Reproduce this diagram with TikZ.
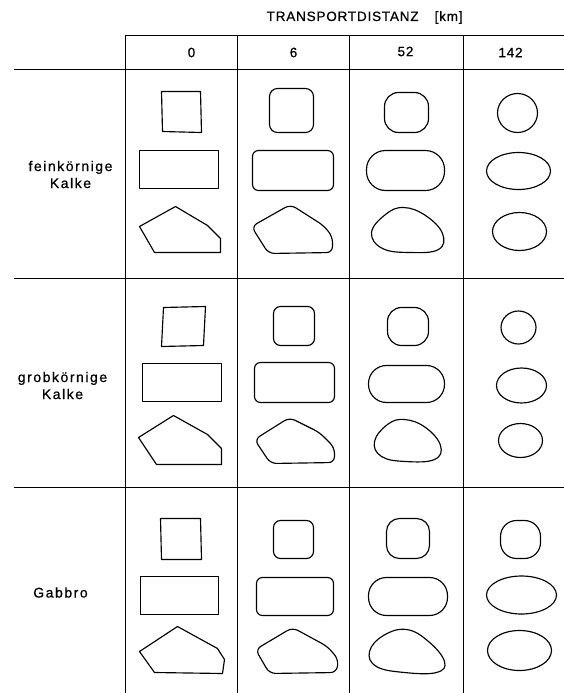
\documentclass[tikz,border=0pt]{standalone}
\usepackage{fontspec}
\setmainfont{Liberation Sans}
\newfontfamily\lblfont[LetterSpace=11,FakeBold=0.6]{Liberation Sans}
\newfontfamily\hdfont[LetterSpace=6,FakeBold=0.6]{Liberation Sans}
\begin{document}
\begin{tikzpicture}[x=1pt,y=-1pt,
  grid/.style={line width=1.2pt},
  grain/.style={line width=1.15pt, line join=round},
  lbl/.style={font=\fontsize{14}{17}\selectfont\lblfont, align=center, inner sep=0pt},
  hd/.style={font=\fontsize{13.5}{16}\selectfont\hdfont, inner sep=0pt}]
\useasboundingbox[fill=white] (0,0) rectangle (564,693);
\begin{scope}[shift={(0.5,-0.5)}]
% table
\draw[grid] (125,36) -- (564,36);
\draw[grid] (13,70) -- (564,70);
\draw[grid] (13,279) -- (564,279);
\draw[grid] (13,488) -- (564,488);
\foreach \x in {125,237,349,463} \draw[grid] (\x,36) -- (\x,693);
% header texts
\node[hd, anchor=west] (title) at (266,18) {TRANSPORTDISTANZ\hspace{16pt}[km]};
\node[hd] (h0) at (191,53) {0};
\node[hd] (h6) at (293,53) {6};
\node[hd] (h52) at (405,52) {52};
\node[hd] (h142) at (510,53) {142};
% row labels
\node[lbl] (fein) at (70,175) {feinkörnige\\Kalke};
\node[lbl] (grob) at (62,386) {grobkörnige\\Kalke};
\node[lbl] (gab) at (60,593) {Gabbro};

% ---------- row 1 : feinkoernige Kalke ----------
\draw[grain] (161,92) -- (200,92) -- (201,133) -- (162,132) -- cycle;
\draw[grain] (139,151) -- (218,151) -- (218,189) -- (139,189) -- cycle;
\draw[grain] (139,227) -- (175,207) -- (207,226) -- (220,239) -- (220,253) -- (154,253) -- cycle;
\draw[grain,rounded corners=8pt] (269,89) rectangle (313,133);
\draw[grain,rounded corners=6pt] (252,151) rectangle (333,191);
\draw[grain,rounded corners=6pt] (251,227) -- (290,205) -- (323,226) -- (332,237) -- (332,253) -- (268,254) -- cycle;
\draw[grain,rounded corners=14pt] (384,93) rectangle (428,133);
\draw[grain,rounded corners=19pt] (366,151) rectangle (444,191);
\draw[grain] plot[smooth cycle, tension=0.7] coordinates {(371,233) (385,215) (403,208) (425,216) (442,234) (438,250) (410,253) (382,249)};
\draw[grain] (517,113.5) ellipse [x radius=20, y radius=19.5];
\draw[grain] (518,171.5) ellipse [x radius=32, y radius=18.5];
\draw[grain] (519,232) ellipse [x radius=27, y radius=19];

% ---------- row 2 : grobkoernige Kalke ----------
\draw[grain] (163,308) -- (205,307) -- (203,346) -- (161,347) -- cycle;
\draw[grain] (142,364) -- (221,364) -- (221,402) -- (142,402) -- cycle;
\draw[grain] (138,438) -- (173,416) -- (207,435) -- (221,449) -- (221,465) -- (156,465) -- cycle;
\draw[grain,rounded corners=7pt] (273,307) rectangle (314,346);
\draw[grain,rounded corners=6pt] (254,363) rectangle (334,403);
\draw[grain,rounded corners=6pt] (254,440) -- (289,418) -- (319,433) -- (334,448) -- (334,463) -- (270,464) -- cycle;
\draw[grain,rounded corners=14pt] (387,308) rectangle (428,346);
\draw[grain,rounded corners=18pt] (368,366) rectangle (444,403);
\draw[grain] plot[smooth cycle, tension=0.7] coordinates {(374,442) (387,425) (404,420) (425,428) (440,446) (434,460) (405,462) (381,457)};
\draw[grain] (518,328) ellipse [x radius=17.5, y radius=16.5];
\draw[grain] (521,386) ellipse [x radius=25, y radius=17.5];
\draw[grain] (520,441) ellipse [x radius=22, y radius=17];

% ---------- row 3 : Gabbro ----------
\draw[grain] (160,519) -- (200,519) -- (201,560) -- (161,560) -- cycle;
\draw[grain] (140,577) -- (218,577) -- (218,615) -- (140,615) -- cycle;
\draw[grain] (139,652) -- (177,627) -- (217,649) -- (224,660) -- (222,674) -- (154,673) -- cycle;
\draw[grain,rounded corners=7pt] (273,521) rectangle (313,559);
\draw[grain,rounded corners=6pt] (256,578) rectangle (333,616);
\draw[grain,rounded corners=6pt] (255,650) -- (292,628) -- (327,647) -- (338,660) -- (336,673) -- (269,674) -- cycle;
\draw[grain,rounded corners=13pt] (386,519) rectangle (429,559);
\draw[grain,rounded corners=18pt] (368,578) rectangle (447,616);
\draw[grain] plot[smooth cycle, tension=0.7] coordinates {(369,652) (383,636) (406,630) (428,642) (444,662) (436,673) (404,673) (376,667)};
\draw[grain,rounded corners=16pt] (500,521) rectangle (540,559);
\draw[grain] (521,595.5) ellipse [x radius=35, y radius=19];
\draw[grain] (519,651) ellipse [x radius=32, y radius=20];
\end{scope}
\end{tikzpicture}
\end{document}
